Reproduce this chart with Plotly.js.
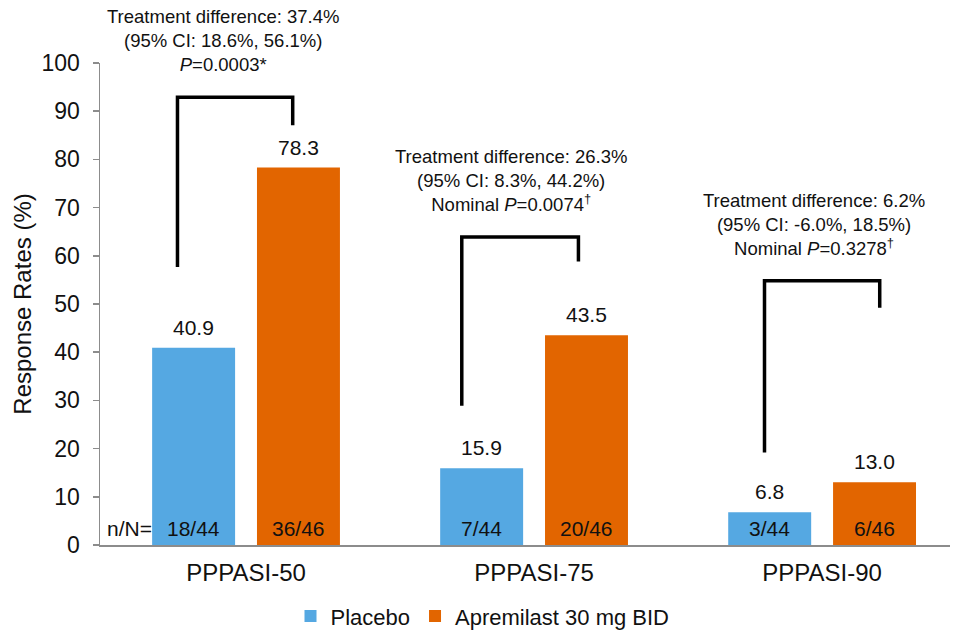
<!DOCTYPE html>
<html>
<head>
<meta charset="utf-8">
<script src="https://cdn.plot.ly/plotly-3.0.1.min.js"></script>
<style>
  html, body { margin: 0; padding: 0; background: #fff; }
  #chart { width: 955px; height: 630px; }
</style>
</head>
<body>
<div id="chart"></div>
<script>
// Response rates by endpoint
const categories = ['PPPASI-50', 'PPPASI-75', 'PPPASI-90'];
const placeboRates = [40.9, 15.9, 6.8];
const apremilastRates = [78.3, 43.5, 13.0];
const placeboCounts = ['18/44', '7/44', '3/44'];
const apremilastCounts = ['36/46', '20/46', '6/46'];
const seriesNames = ['Placebo', 'Apremilast 30 mg BID'];

// Between-group comparison text for each endpoint
const comparisonText = [
  'Treatment difference: 37.4%<br>(95% CI: 18.6%, 56.1%)<br><i>P</i>=0.0003*',
  'Treatment difference: 26.3%<br>(95% CI: 8.3%, 44.2%)<br>Nominal <i>P</i>=0.0074<sup>†</sup>',
  'Treatment difference: 6.2%<br>(95% CI: -6.0%, 18.5%)<br>Nominal <i>P</i>=0.3278<sup>†</sup>'
];

// Bracket levels (axis units): left leg foot, top bar, right leg foot
const bracketLeftFoot = [57.7, 28.9, 19.2];
const bracketTop = [92.9, 63.9, 54.8];
const bracketRightFoot = [87.1, 58.8, 49.2];

const FONT = 'Liberation Sans, Arial, sans-serif';
const INK = '#111111';
const BLUE = '#55A8E2';
const ORANGE = '#E26500';
const AXIS = '#8c8c8c';

const barWidth = 0.288;
const halfGap = 0.182;

const traces = [
  {
    type: 'bar', name: seriesNames[0], x: categories, y: placeboRates,
    width: barWidth, offset: -halfGap - barWidth / 2,
    marker: { color: BLUE, line: { width: 0 } }, hoverinfo: 'skip'
  },
  {
    type: 'bar', name: seriesNames[1], x: categories, y: apremilastRates,
    width: barWidth, offset: halfGap - barWidth / 2,
    marker: { color: ORANGE, line: { width: 0 } }, hoverinfo: 'skip'
  }
];

const annotations = [];
const shapes = [];

categories.forEach((c, i) => {
  // value labels above bars
  annotations.push({
    x: i - halfGap, y: placeboRates[i], xref: 'x', yref: 'y',
    text: placeboRates[i].toFixed(1), showarrow: false,
    yanchor: 'bottom', yshift: 7, font: { family: FONT, size: 21, color: INK }
  });
  annotations.push({
    x: i + halfGap, y: apremilastRates[i], xref: 'x', yref: 'y',
    text: apremilastRates[i].toFixed(1), showarrow: false,
    yanchor: 'bottom', yshift: 7, font: { family: FONT, size: 21, color: INK }
  });
  // responder counts inside bars
  annotations.push({
    x: i - halfGap, y: 0, xref: 'x', yref: 'y',
    text: placeboCounts[i], showarrow: false,
    yanchor: 'bottom', yshift: 3, font: { family: FONT, size: 21, color: INK }
  });
  annotations.push({
    x: i + halfGap, y: 0, xref: 'x', yref: 'y',
    text: apremilastCounts[i], showarrow: false,
    yanchor: 'bottom', yshift: 3, font: { family: FONT, size: 21, color: INK }
  });
});

// bracket horizontal extents relative to each group centre
const bracketLeftX = [-0.238, -0.251, -0.200];
const bracketRightX = [0.162, 0.154, 0.200];
const textShiftX = [-0.079, -0.081, -0.028];

categories.forEach((c, i) => {
  const x0 = i + bracketLeftX[i];
  const x1 = i + bracketRightX[i];
  shapes.push({
    type: 'path', xref: 'x', yref: 'y',
    path: `M ${x0},${bracketLeftFoot[i]} L ${x0},${bracketTop[i]} L ${x1},${bracketTop[i]} L ${x1},${bracketRightFoot[i]}`,
    line: { color: '#000', width: 3.5 }
  });
  annotations.push({
    x: i + textShiftX[i], y: bracketTop[i], xref: 'x', yref: 'y',
    text: comparisonText[i], showarrow: false, align: 'center',
    yanchor: 'bottom', yshift: 20,
    font: { family: FONT, size: 18.5, color: INK }
  });
});

annotations.push({
  x: 0.006, y: 0, xref: 'paper', yref: 'y', xanchor: 'left',
  text: 'n/N=', showarrow: false, yanchor: 'bottom', yshift: 3,
  font: { family: FONT, size: 21, color: INK }
});

const layout = {
  width: 955, height: 630,
  margin: { l: 100, r: 5, t: 62.5, b: 84.5, autoexpand: false },
  paper_bgcolor: '#fff', plot_bgcolor: '#fff',
  font: { family: FONT, color: INK },
  barmode: 'overlay',
  showlegend: true,
  legend: {
    orientation: 'h', x: 0.45, xanchor: 'center',
    yref: 'container', y: 0.022, yanchor: 'middle',
    font: { family: FONT, size: 22, color: INK }, itemclick: false, traceorder: 'normal'
  },
  xaxis: {
    type: 'category', categoryorder: 'array', categoryarray: categories,
    range: [-0.507, 2.444], showline: true, linecolor: AXIS, linewidth: 1.5,
    ticks: '', showgrid: false, zeroline: false, automargin: false,
    tickfont: { family: FONT, size: 24, color: INK }, ticklabelstandoff: 6
  },
  yaxis: {
    range: [0, 100], dtick: 10, showline: true, linecolor: AXIS, linewidth: 1.5,
    ticks: 'outside', ticklen: 6, tickcolor: AXIS, tickwidth: 1.5,
    showgrid: false, zeroline: false, automargin: false,
    tickfont: { family: FONT, size: 23, color: INK }, ticklabelstandoff: 8,
    title: { text: 'Response Rates (%)', font: { family: FONT, size: 24, color: INK }, standoff: 3 }
  },
  shapes: shapes,
  annotations: annotations
};

Plotly.newPlot('chart', traces, layout, { displayModeBar: false, staticPlot: true });
</script>
</body>
</html>
